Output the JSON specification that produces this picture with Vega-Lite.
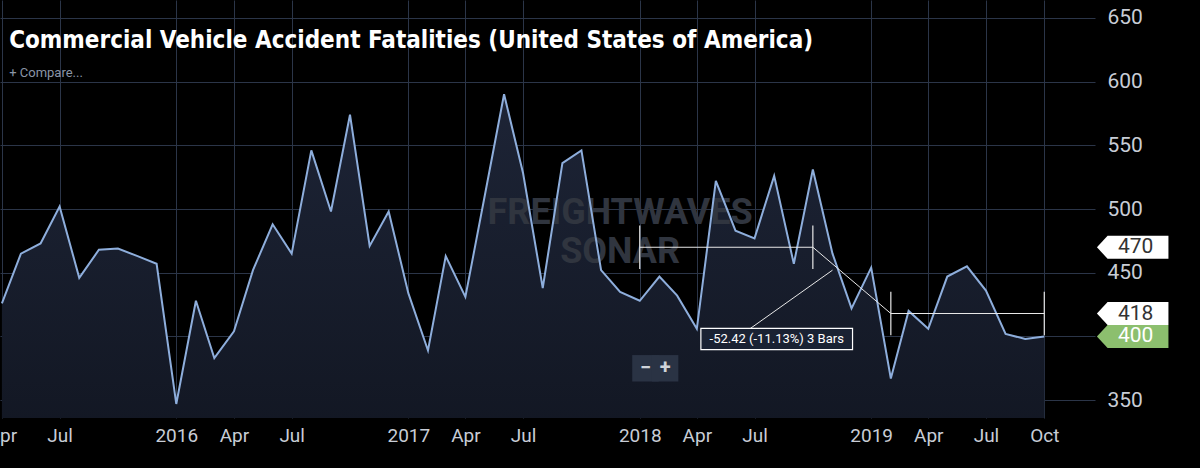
{
  "$schema": "https://vega.github.io/schema/vega-lite/v6.json",
  "width": 1095,
  "height": 418,
  "autosize": "none",
  "padding": {"left": 0, "top": 0, "right": 105, "bottom": 50},
  "background": "#000000",
  "title": {"text": "Commercial Vehicle Accident Fatalities (United States of America)", "subtitle": "+ Compare...", "anchor": "start", "color": "#ffffff", "font": "DejaVu Sans Condensed", "fontSize": 24, "fontWeight": "bold", "subtitleColor": "#8a94a6", "subtitleFont": "Roboto", "subtitleFontSize": 13, "subtitlePadding": 14, "dx": 22, "dy": 80, "offset": 0},
  "config": {"view": {"stroke": null}},
  "datasets": {
    "series": [
      {"date": "2015-04-01", "value": 426}, {"date": "2015-05-01", "value": 465}, {"date": "2015-06-01", "value": 473},
      {"date": "2015-07-01", "value": 502}, {"date": "2015-08-01", "value": 446}, {"date": "2015-09-01", "value": 468},
      {"date": "2015-10-01", "value": 469}, {"date": "2015-11-01", "value": 463}, {"date": "2015-12-01", "value": 457},
      {"date": "2016-01-01", "value": 347}, {"date": "2016-02-01", "value": 428}, {"date": "2016-03-01", "value": 383},
      {"date": "2016-04-01", "value": 404}, {"date": "2016-05-01", "value": 452}, {"date": "2016-06-01", "value": 488},
      {"date": "2016-07-01", "value": 465}, {"date": "2016-08-01", "value": 546}, {"date": "2016-09-01", "value": 498},
      {"date": "2016-10-01", "value": 574}, {"date": "2016-11-01", "value": 471}, {"date": "2016-12-01", "value": 498},
      {"date": "2017-01-01", "value": 434}, {"date": "2017-02-01", "value": 389}, {"date": "2017-03-01", "value": 463},
      {"date": "2017-04-01", "value": 431}, {"date": "2017-05-01", "value": 509}, {"date": "2017-06-01", "value": 590},
      {"date": "2017-07-01", "value": 528}, {"date": "2017-08-01", "value": 438}, {"date": "2017-09-01", "value": 536},
      {"date": "2017-10-01", "value": 546}, {"date": "2017-11-01", "value": 452}, {"date": "2017-12-01", "value": 435},
      {"date": "2018-01-01", "value": 428}, {"date": "2018-02-01", "value": 447}, {"date": "2018-03-01", "value": 432},
      {"date": "2018-04-01", "value": 406}, {"date": "2018-05-01", "value": 522}, {"date": "2018-06-01", "value": 483},
      {"date": "2018-07-01", "value": 477}, {"date": "2018-08-01", "value": 526}, {"date": "2018-09-01", "value": 457},
      {"date": "2018-10-01", "value": 531}, {"date": "2018-11-01", "value": 465}, {"date": "2018-12-01", "value": 422},
      {"date": "2019-01-01", "value": 454}, {"date": "2019-02-01", "value": 367}, {"date": "2019-03-01", "value": 420},
      {"date": "2019-04-01", "value": 406}, {"date": "2019-05-01", "value": 447}, {"date": "2019-06-01", "value": 455},
      {"date": "2019-07-01", "value": 436}, {"date": "2019-08-01", "value": 402}, {"date": "2019-09-01", "value": 398},
      {"date": "2019-10-01", "value": 400}
    ],
    "measure": [
      {"start": "2018-01-01", "end": "2018-10-01", "value": 470, "lo": 453, "hi": 487},
      {"start": "2019-02-01", "end": "2019-10-01", "value": 418, "lo": 401, "hi": 435}
    ],
    "badges": [
      {"label": "470", "value": 470, "kind": "avg"},
      {"label": "418", "value": 418, "kind": "avg"},
      {"label": "400", "value": 400, "kind": "last"}
    ]
  },
  "encoding": {
    "x": {"field": "date", "type": "temporal", "scale": {"domain": ["2015-03-29", "2019-12-20"]},
      "axis": {"title": null, "orient": "bottom",
        "values": ["2015-04-01", "2015-07-01", "2016-01-01", "2016-04-01", "2016-07-01", "2017-01-01", "2017-04-01", "2017-07-01", "2018-01-01", "2018-04-01", "2018-07-01", "2019-01-01", "2019-04-01", "2019-07-01", "2019-10-01"],
        "labelExpr": "month(datum.value) == 0 ? timeFormat(datum.value, '%Y') : timeFormat(datum.value, '%b')", "labelColor": "#c8cdd6", "labelFontSize": 19, "labelFont": "Roboto", "labelPadding": 8, "labelOverlap": false, "labelBound": false, "grid": true, "gridColor": "#2b3548", "domain": false, "ticks": false}}
  },
  "layer": [
    {
      "data": {"name": "series"},
      "mark": {"type": "area", "clip": true, "color": {"gradient": "linear", "x1": 0, "y1": 0, "x2": 0, "y2": 1, "stops": [{"offset": 0, "color": "#1d2436"}, {"offset": 1, "color": "#05070c"}]}},
      "encoding": {
        "y": {"field": "value", "type": "quantitative", "scale": {"domain": [336, 664], "nice": false, "zero": false},
          "axis": {"title": null, "orient": "right", "values": [350, 400, 450, 500, 550, 600, 650], "labelColor": "#c8cdd6", "labelFontSize": 21, "labelFont": "Roboto", "labelPadding": 12, "gridColor": "#2b3548", "domain": false, "ticks": false}}
      }
    },
    {
      "data": {"values": [{"t": "FREIGHTWAVES", "date": "2017-12-01", "value": 497}, {"t": "SONAR", "date": "2017-12-01", "value": 466}]},
      "mark": {"type": "text", "color": "#30353f", "font": "Roboto", "fontWeight": "bold", "fontSize": 36},
      "encoding": {"y": {"field": "value", "type": "quantitative"}, "text": {"field": "t"}}
    },
    {
      "data": {"name": "series"},
      "mark": {"type": "line", "color": "#8eaedc", "strokeWidth": 2},
      "encoding": {"y": {"field": "value", "type": "quantitative"}}
    },
    {
      "data": {"values": [{"value": 400}]},
      "mark": {"type": "rule", "color": "#6a7a90", "strokeDash": [5, 4], "strokeWidth": 1},
      "encoding": {"y": {"field": "value", "type": "quantitative"}}
    },
    {
      "data": {"name": "measure"},
      "mark": {"type": "rule", "color": "#e8e8e8", "strokeWidth": 1.2},
      "encoding": {"x": {"field": "start", "type": "temporal"}, "x2": {"field": "end"}, "y": {"field": "value", "type": "quantitative"}}
    },
    {
      "data": {"name": "measure"},
      "mark": {"type": "rule", "color": "#e8e8e8", "strokeWidth": 1.2},
      "encoding": {"x": {"field": "start", "type": "temporal"}, "y": {"field": "lo", "type": "quantitative"}, "y2": {"field": "hi"}}
    },
    {
      "data": {"name": "measure"},
      "mark": {"type": "rule", "color": "#e8e8e8", "strokeWidth": 1.2},
      "encoding": {"x": {"field": "end", "type": "temporal"}, "y": {"field": "lo", "type": "quantitative"}, "y2": {"field": "hi"}}
    },
    {
      "data": {"values": [{"a": "2018-10-01", "av": 470, "b": "2019-02-01", "bv": 418}, {"a": "2018-06-01", "av": 398, "b": "2018-11-01", "bv": 452}]},
      "mark": {"type": "rule", "color": "#e8e8e8", "strokeWidth": 1},
      "encoding": {"x": {"field": "a", "type": "temporal"}, "x2": {"field": "b"}, "y": {"field": "av", "type": "quantitative"}, "y2": {"field": "bv"}}
    },
    {
      "data": {"values": [{"t": "-52.42 (-11.13%) 3 Bars", "date": "2018-08-05", "value": 398}]},
      "layer": [
        {"mark": {"type": "point", "shape": "M-1,-0.14 L1,-0.14 L1,0.14 L-1,0.14 Z", "size": 23000, "filled": true, "color": "#1a2233", "stroke": "#ffffff", "strokeWidth": 1.2, "opacity": 1},
          "encoding": {"y": {"field": "value", "type": "quantitative"}}},
        {"mark": {"type": "text", "color": "#ffffff", "font": "Roboto", "fontSize": 13},
          "encoding": {"y": {"field": "value", "type": "quantitative"}, "text": {"field": "t"}}}
      ]
    },
    {
      "data": {"values": [{"t": "−", "date": "2018-01-10"}, {"t": "+", "date": "2018-02-10"}]},
      "layer": [
        {"mark": {"type": "point", "shape": "square", "size": 700, "filled": true, "color": "#2a3344", "opacity": 1},
          "encoding": {"y": {"datum": 375, "type": "quantitative"}}},
        {"mark": {"type": "text", "color": "#d0d4da", "font": "Roboto", "fontWeight": "bold", "fontSize": 20},
          "encoding": {"y": {"datum": 375, "type": "quantitative"}, "text": {"field": "t"}}}
      ]
    },
    {
      "data": {"name": "badges"},
      "layer": [
        {"mark": {"type": "point", "shape": "M-1.35,0 L-1,-0.38 L1,-0.38 L1,0.38 L-1,0.38 Z", "size": 3700, "filled": true, "opacity": 1, "clip": false},
          "encoding": {
            "x": {"value": 1138},
            "y": {"field": "value", "type": "quantitative"},
            "color": {"condition": {"test": "datum.kind == 'last'", "value": "#8cbf6e"}, "value": "#ffffff"}
          }},
        {"mark": {"type": "text", "align": "left", "fontSize": 21, "font": "Roboto", "clip": false},
          "encoding": {
            "x": {"value": 1118},
            "y": {"field": "value", "type": "quantitative"},
            "text": {"field": "label"},
            "color": {"condition": {"test": "datum.kind == 'last'", "value": "#ffffff"}, "value": "#333333"}
          }}
      ]
    }
  ]
}
